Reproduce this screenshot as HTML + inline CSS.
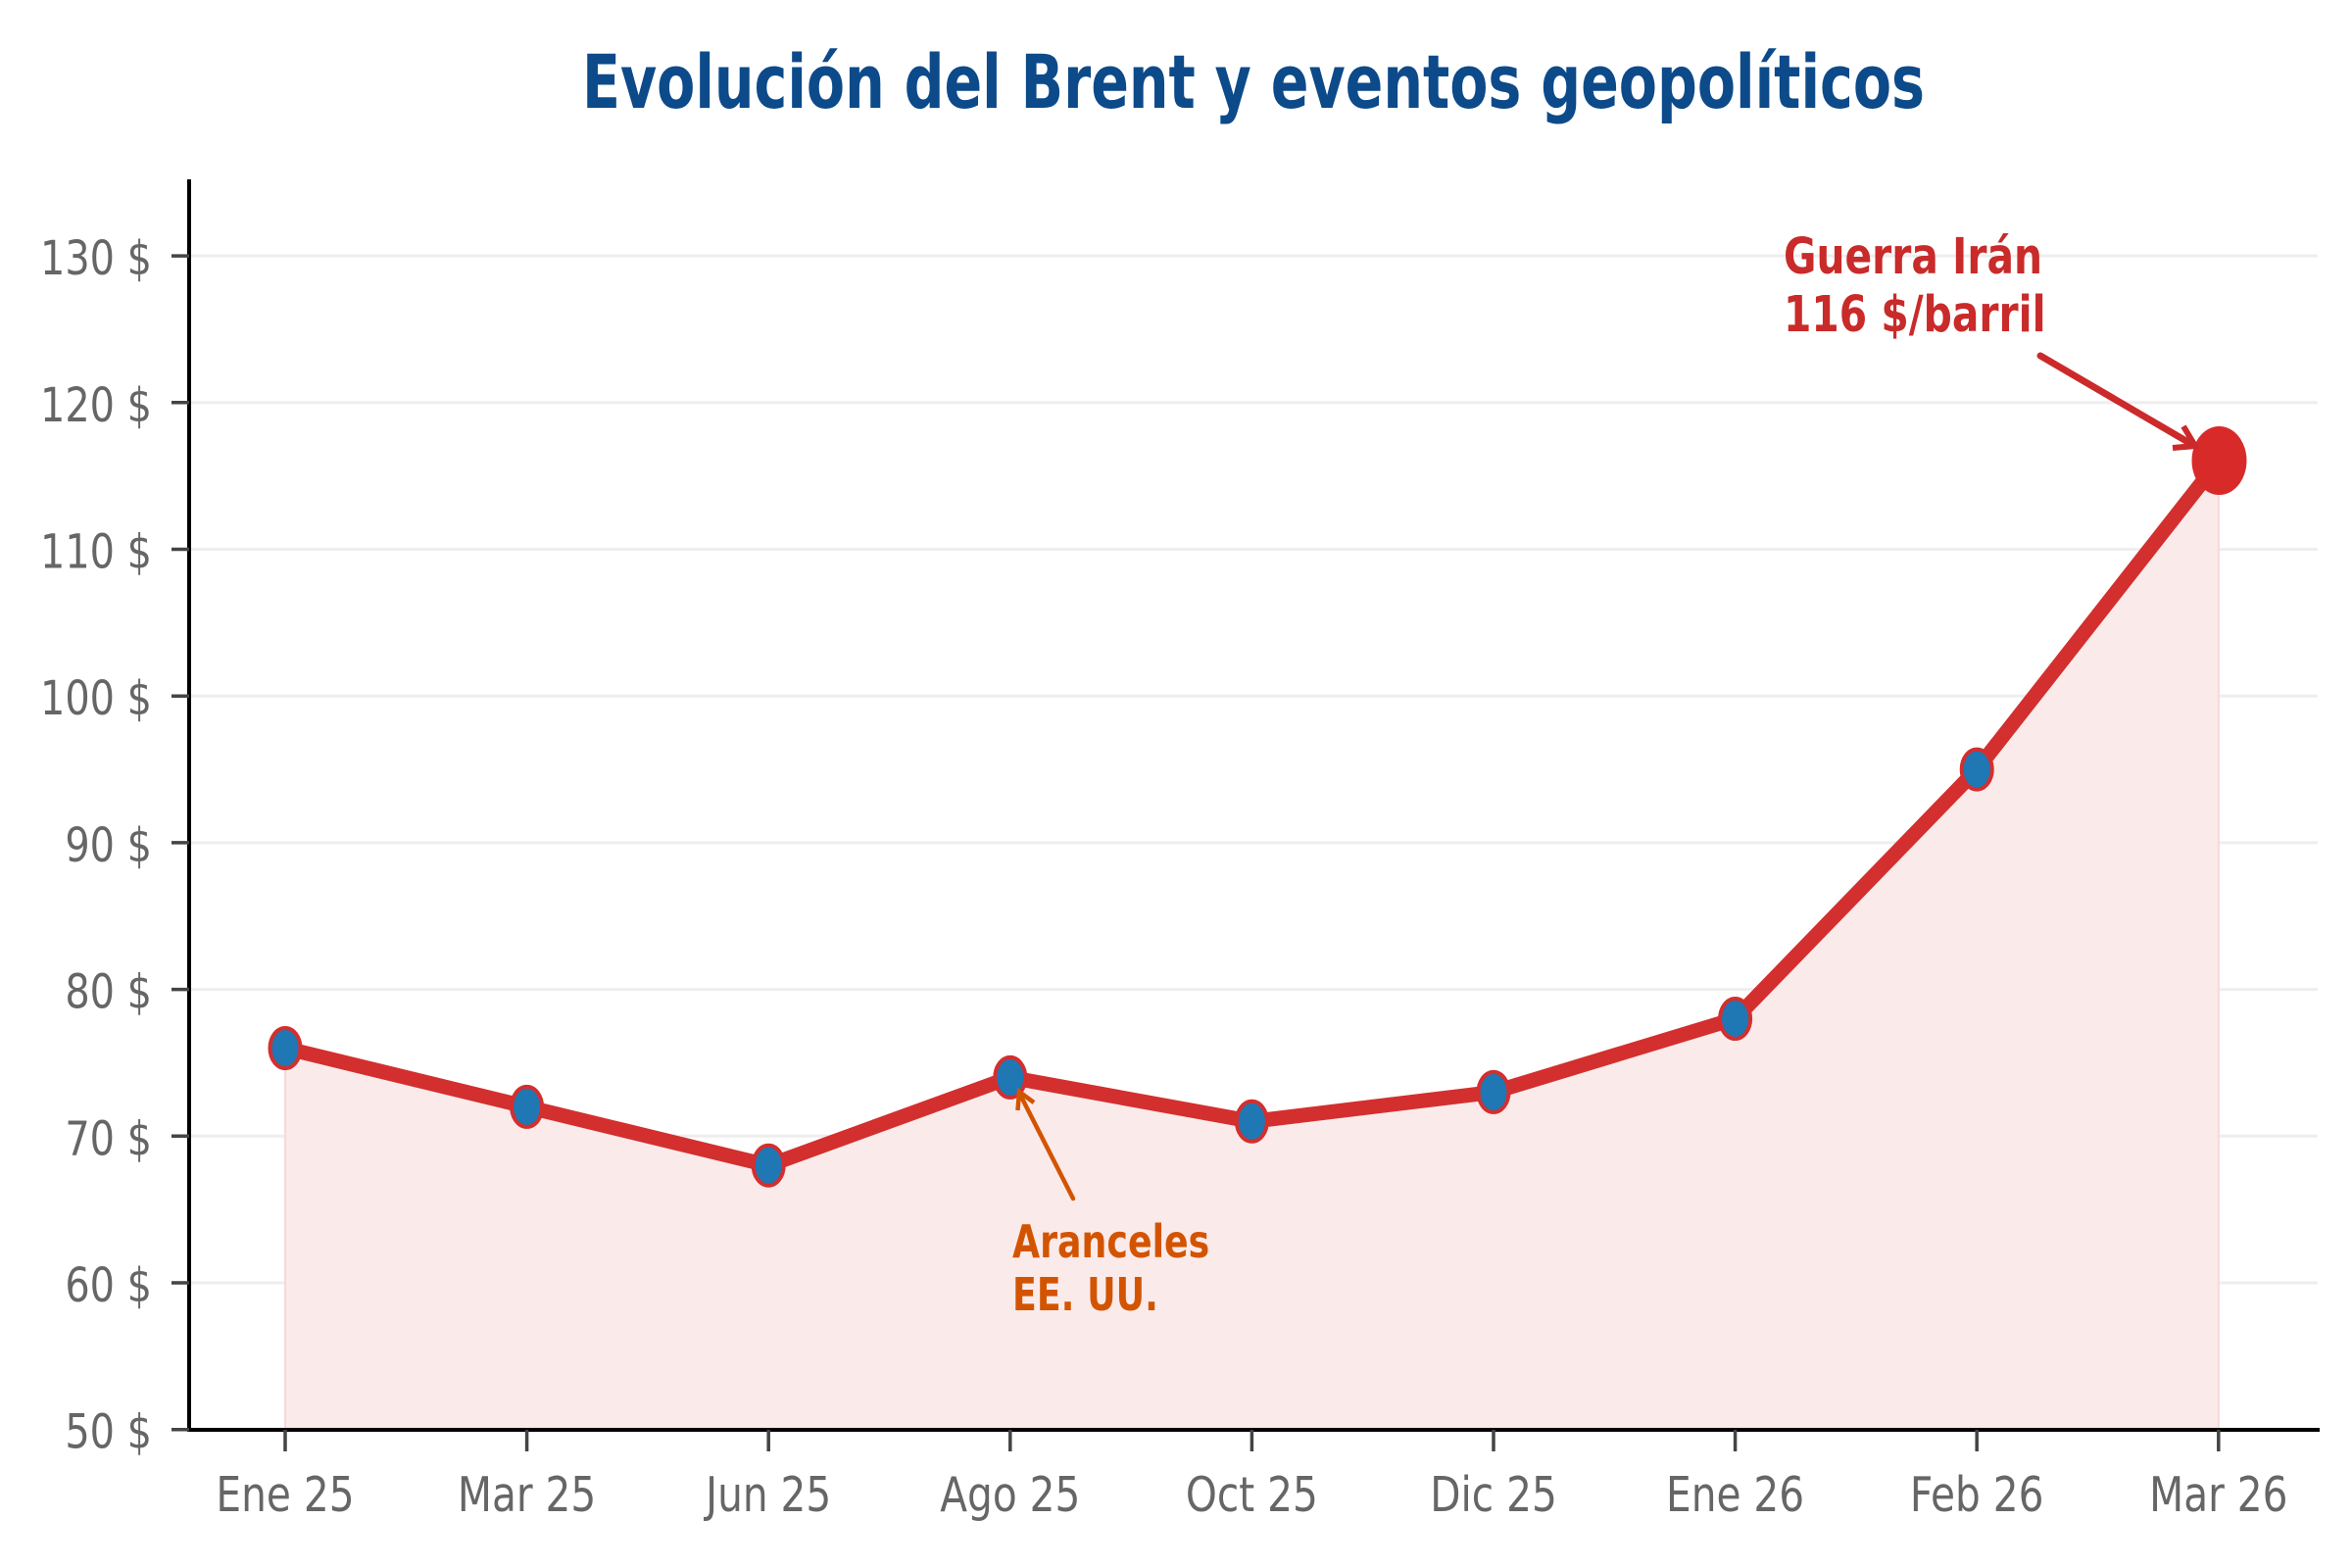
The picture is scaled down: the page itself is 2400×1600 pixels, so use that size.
<!DOCTYPE html>
<html>
<head>
<meta charset="utf-8">
<style>
  html, body { margin: 0; padding: 0; background: #ffffff; }
  svg { display: block; }
</style>
</head>
<body>
<svg width="2400" height="1600" viewBox="0 0 2400 1600" xmlns="http://www.w3.org/2000/svg">
  <rect x="0" y="0" width="2400" height="1600" fill="#ffffff"/>

  <!-- Title -->
  <text x="594" y="110" font-family="DejaVu Sans, Liberation Sans, sans-serif" font-weight="bold" font-size="76" fill="#0c4a8a" textLength="1370" lengthAdjust="spacingAndGlyphs">Evolución del Brent y eventos geopolíticos</text>

  <!-- Gridlines -->
  <g stroke="#eeeeee" stroke-width="3">
    <line x1="195" y1="261.1" x2="2365" y2="261.1"/>
    <line x1="195" y1="410.8" x2="2365" y2="410.8"/>
    <line x1="195" y1="560.5" x2="2365" y2="560.5"/>
    <line x1="195" y1="710.2" x2="2365" y2="710.2"/>
    <line x1="195" y1="859.9" x2="2365" y2="859.9"/>
    <line x1="195" y1="1009.6" x2="2365" y2="1009.6"/>
    <line x1="195" y1="1159.3" x2="2365" y2="1159.3"/>
    <line x1="195" y1="1309" x2="2365" y2="1309"/>
  </g>

  <!-- Fill under line -->
  <polygon points="291,1069.5 537.6,1129.4 784.2,1189.2 1030.8,1099.4 1277.4,1144.3 1524,1114.4 1770.6,1039.5 2017.2,785.1 2263.8,470.7 2263.8,1458.7 291,1458.7"
    fill="#fbeaea" stroke="#f5d9d9" stroke-width="2"/>

  <!-- Line -->
  <polyline points="291,1069.5 537.6,1129.4 784.2,1189.2 1030.8,1099.4 1277.4,1144.3 1524,1114.4 1770.6,1039.5 2017.2,785.1 2263.8,470.7"
    fill="none" stroke="#d32f2f" stroke-width="15" stroke-linejoin="round" stroke-linecap="round"/>

  <!-- Markers -->
  <g fill="#1f77b4" stroke="#d32f2f" stroke-width="4">
    <ellipse cx="291" cy="1069.5" rx="15.5" ry="20.5"/>
    <ellipse cx="537.6" cy="1129.4" rx="15.5" ry="20.5"/>
    <ellipse cx="784.2" cy="1189.2" rx="15.5" ry="20.5"/>
    <ellipse cx="1030.8" cy="1099.4" rx="15.5" ry="20.5"/>
    <ellipse cx="1277.4" cy="1144.3" rx="15.5" ry="20.5"/>
    <ellipse cx="1524" cy="1114.4" rx="15.5" ry="20.5"/>
    <ellipse cx="1770.6" cy="1039.5" rx="15.5" ry="20.5"/>
    <ellipse cx="2017.2" cy="785.1" rx="15.5" ry="20.5"/>
  </g>
  <ellipse cx="2264.5" cy="470" rx="28" ry="35" fill="#d92a2a"/>

  <!-- Axes spines -->
  <line x1="193" y1="183" x2="193" y2="1461" stroke="#000" stroke-width="4"/>
  <line x1="191" y1="1459" x2="2367" y2="1459" stroke="#000" stroke-width="4"/>

  <!-- Y ticks -->
  <g stroke="#444" stroke-width="3.5">
    <line x1="175" y1="261.1" x2="193" y2="261.1"/>
    <line x1="175" y1="410.8" x2="193" y2="410.8"/>
    <line x1="175" y1="560.5" x2="193" y2="560.5"/>
    <line x1="175" y1="710.2" x2="193" y2="710.2"/>
    <line x1="175" y1="859.9" x2="193" y2="859.9"/>
    <line x1="175" y1="1009.6" x2="193" y2="1009.6"/>
    <line x1="175" y1="1159.3" x2="193" y2="1159.3"/>
    <line x1="175" y1="1309" x2="193" y2="1309"/>
    <line x1="175" y1="1458.7" x2="193" y2="1458.7"/>
  </g>
  <g font-family="DejaVu Sans, Liberation Sans, sans-serif" font-size="48" fill="#666" text-anchor="end">
    <text transform="translate(155,280) scale(0.83,1)">130 $</text>
    <text transform="translate(155,429.8) scale(0.83,1)">120 $</text>
    <text transform="translate(155,579.5) scale(0.83,1)">110 $</text>
    <text transform="translate(155,729.2) scale(0.83,1)">100 $</text>
    <text transform="translate(155,878.9) scale(0.83,1)">90 $</text>
    <text transform="translate(155,1028.6) scale(0.83,1)">80 $</text>
    <text transform="translate(155,1178.3) scale(0.83,1)">70 $</text>
    <text transform="translate(155,1328) scale(0.83,1)">60 $</text>
    <text transform="translate(155,1477.7) scale(0.83,1)">50 $</text>
  </g>

  <!-- X ticks -->
  <g stroke="#444" stroke-width="3.5">
    <line x1="291" y1="1459" x2="291" y2="1481"/>
    <line x1="537.6" y1="1459" x2="537.6" y2="1481"/>
    <line x1="784.2" y1="1459" x2="784.2" y2="1481"/>
    <line x1="1030.8" y1="1459" x2="1030.8" y2="1481"/>
    <line x1="1277.4" y1="1459" x2="1277.4" y2="1481"/>
    <line x1="1524" y1="1459" x2="1524" y2="1481"/>
    <line x1="1770.6" y1="1459" x2="1770.6" y2="1481"/>
    <line x1="2017.2" y1="1459" x2="2017.2" y2="1481"/>
    <line x1="2263.8" y1="1459" x2="2263.8" y2="1481"/>
  </g>
  <g font-family="DejaVu Sans, Liberation Sans, sans-serif" font-size="49" fill="#666" text-anchor="middle">
    <text transform="translate(291,1542) scale(0.83,1)">Ene 25</text>
    <text transform="translate(537.6,1542) scale(0.83,1)">Mar 25</text>
    <text transform="translate(784.2,1542) scale(0.83,1)">Jun 25</text>
    <text transform="translate(1030.8,1542) scale(0.83,1)">Ago 25</text>
    <text transform="translate(1277.4,1542) scale(0.83,1)">Oct 25</text>
    <text transform="translate(1524,1542) scale(0.83,1)">Dic 25</text>
    <text transform="translate(1770.6,1542) scale(0.83,1)">Ene 26</text>
    <text transform="translate(2017.2,1542) scale(0.83,1)">Feb 26</text>
    <text transform="translate(2263.8,1542) scale(0.83,1)">Mar 26</text>
  </g>

  <!-- Guerra Irán annotation -->
  <line x1="2082" y1="363" x2="2236" y2="453" stroke="#cc2a2a" stroke-width="7" stroke-linecap="round"/>
  <polyline points="2228,435 2240,455 2217,457" fill="none" stroke="#cc2a2a" stroke-width="6" stroke-linejoin="miter"/>
  <g font-family="DejaVu Sans, Liberation Sans, sans-serif" font-size="51" font-weight="bold" fill="#c92a2a">
    <text transform="translate(1820,279) scale(0.8,1)">Guerra Irán</text>
    <text transform="translate(1820,338) scale(0.8,1)">116 $/barril</text>
  </g>

  <!-- Aranceles annotation -->
  <line x1="1095" y1="1223" x2="1041" y2="1117" stroke="#d35400" stroke-width="4.5" stroke-linecap="round"/>
  <polyline points="1038.5,1133 1040,1114 1055,1125" fill="none" stroke="#d35400" stroke-width="4.5"/>
  <g font-family="DejaVu Sans, Liberation Sans, sans-serif" font-size="46" font-weight="bold" fill="#d35400">
    <text transform="translate(1033,1283) scale(0.79,1)">Aranceles</text>
    <text transform="translate(1033,1337) scale(0.79,1)">EE. UU.</text>
  </g>
</svg>
</body>
</html>
